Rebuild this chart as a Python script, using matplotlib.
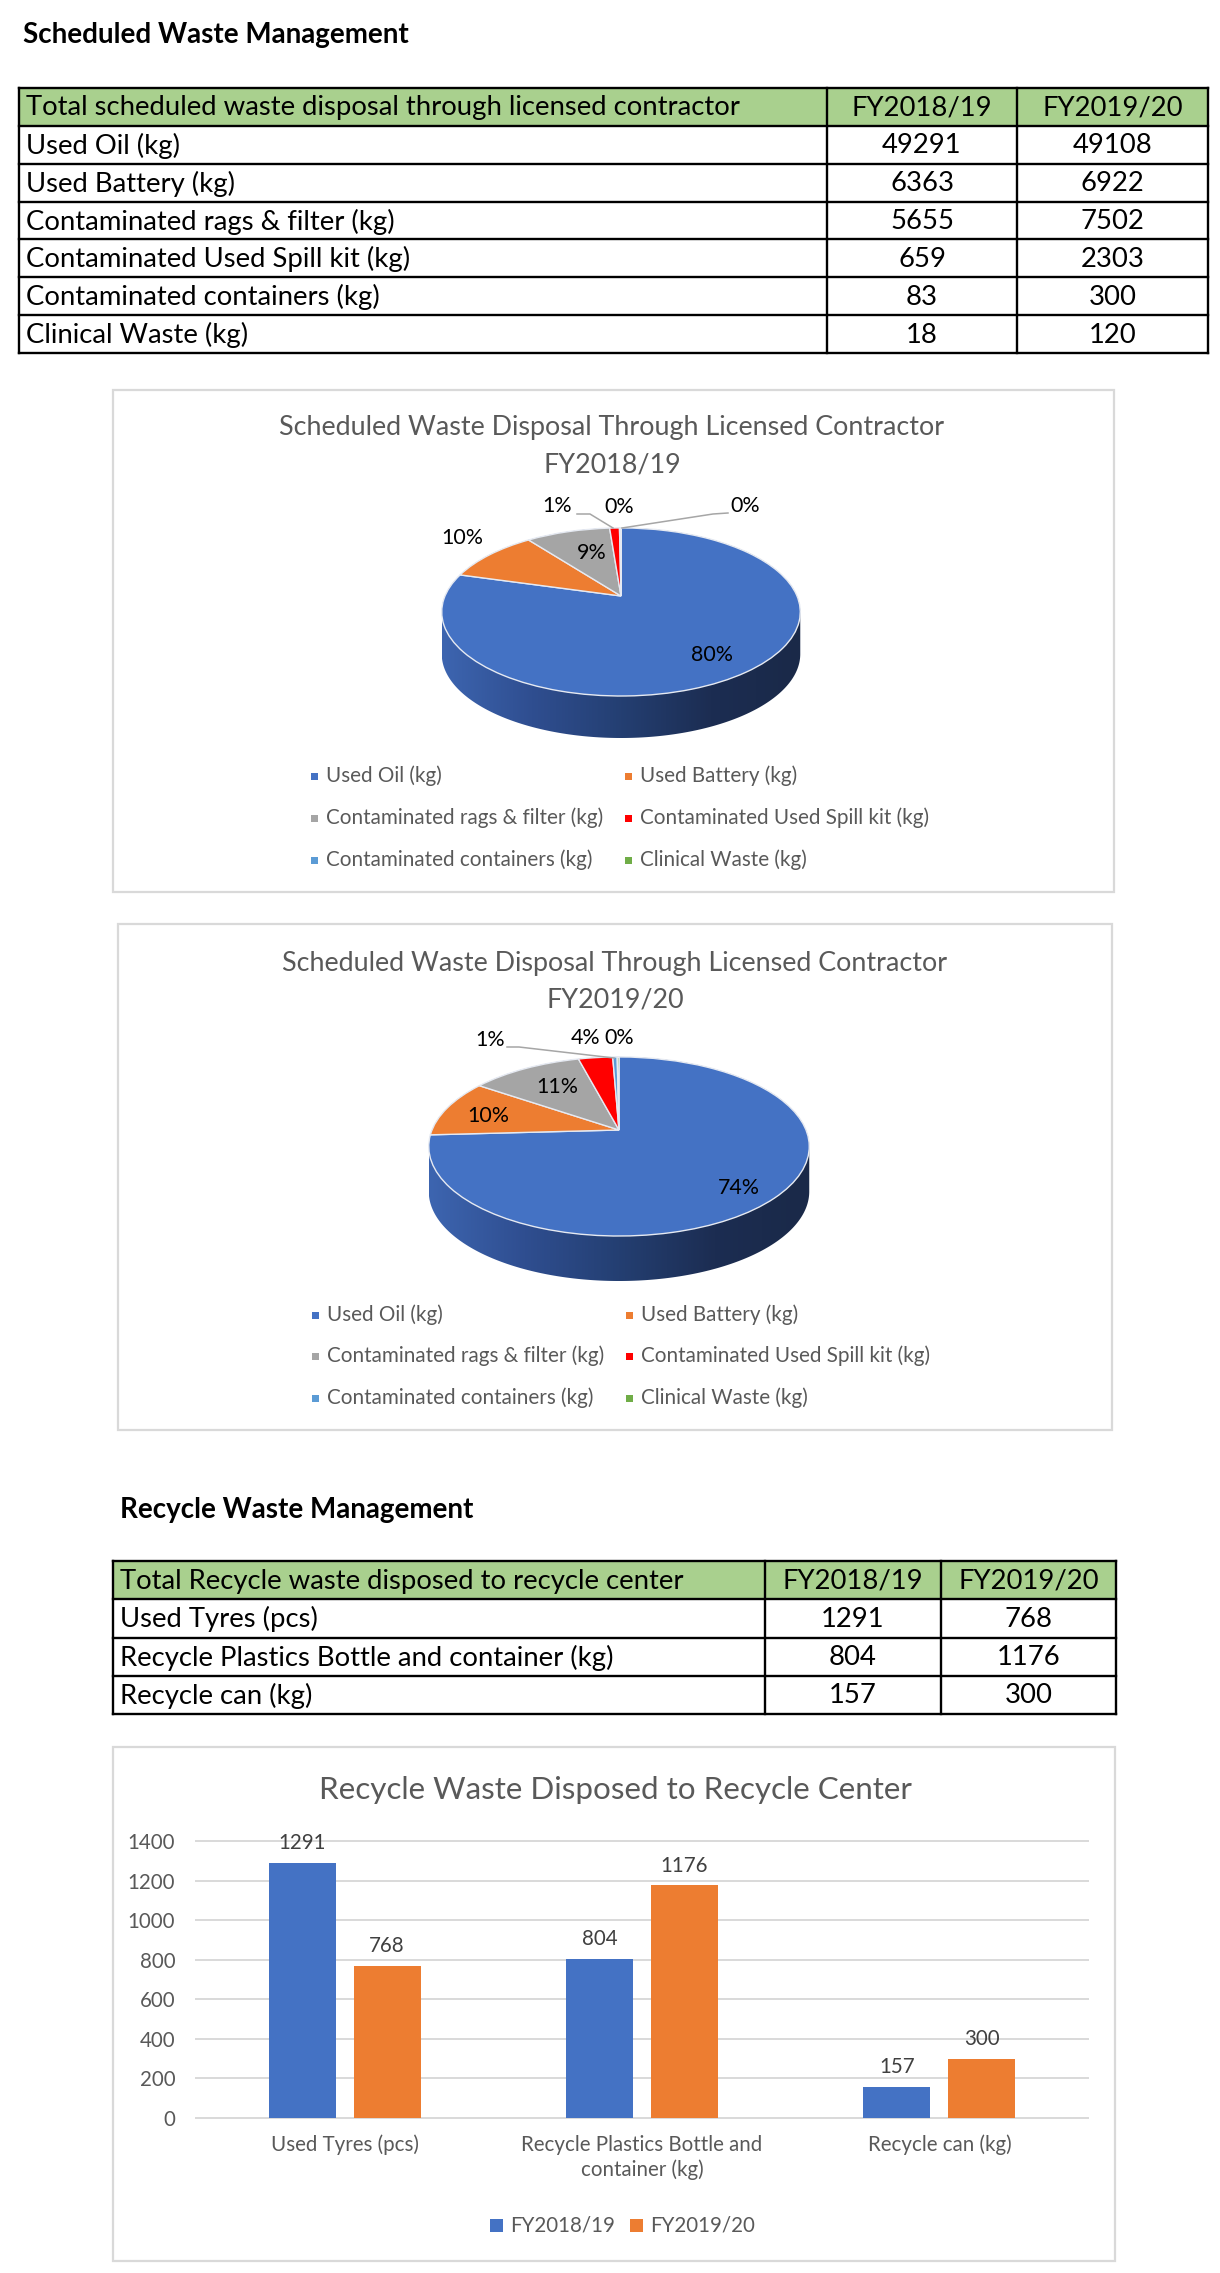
import numpy as np
import matplotlib
matplotlib.use('Agg')
import matplotlib.pyplot as plt
from matplotlib import transforms as mtransforms
from matplotlib.patches import Rectangle, Polygon
from matplotlib.colors import LinearSegmentedColormap

# ---------------- DATA ----------------
sched_header = ['Total scheduled waste disposal through licensed contractor', 'FY2018/19', 'FY2019/20']
sched_items = ['Used Oil (kg)', 'Used Battery (kg)', 'Contaminated rags & filter (kg)',
               'Contaminated Used Spill kit (kg)', 'Contaminated containers (kg)', 'Clinical Waste (kg)']
sched_fy1819 = [49291, 6363, 5655, 659, 83, 18]
sched_fy1920 = [49108, 6922, 7502, 2303, 300, 120]
pie_pct_labels_1819 = ['80%', '10%', '9%', '1%', '0%', '0%']
pie_pct_labels_1920 = ['74%', '10%', '11%', '4%', '1%', '0%']
pie_colors = ['#4472C4', '#ED7D31', '#A5A5A5', '#FF0000', '#5B9BD5', '#70AD47']

recycle_header = ['Total Recycle waste disposed to recycle center', 'FY2018/19', 'FY2019/20']
recycle_items = ['Used Tyres (pcs)', 'Recycle Plastics Bottle and container (kg)', 'Recycle can (kg)']
recycle_fy1819 = [1291, 804, 157]
recycle_fy1920 = [768, 1176, 300]
bar_categories = ['Used Tyres (pcs)', 'Recycle Plastics Bottle and\ncontainer (kg)', 'Recycle can (kg)']
bar_series = ['FY2018/19', 'FY2019/20']
bar_colors = ['#4472C4', '#ED7D31']
bar_yticks = [0, 200, 400, 600, 800, 1000, 1200, 1400]

# ---------------- FIGURE ----------------
FONT = 'Lato'
plt.rcParams['font.family'] = [FONT, 'DejaVu Sans']
W, H = 1220, 2273
fig = plt.figure(figsize=(W / 100, H / 100), dpi=100)
fig.patch.set_facecolor('white')
ov = fig.add_axes([0, 0, 1, 1])
ov.set_xlim(0, W)
ov.set_ylim(H, 0)
ov.axis('off')
renderer = fig.canvas.get_renderer()


def fit_size(s, target, weight='normal'):
    t = fig.text(0, 0, s, fontsize=20, weight=weight)
    w = t.get_window_extent(renderer).width
    t.remove()
    return 20 * target / w


fs_sec = fit_size('Scheduled Waste Management', 386, 'bold')
fs_tab = fit_size(sched_header[0], 716)
fs_ptitle = fit_size('Scheduled Waste Disposal Through Licensed Contractor', 667)
fs_leg = fit_size(sched_items[2], 278)
fs_plab = fit_size(pie_pct_labels_1819[0], 42)
fs_btitle = fit_size('Recycle Waste Disposed to Recycle Center', 594)
fs_bar = fit_size(bar_categories[0], 148)

GRAY_T = '#595959'


def box(x0, y0, x1, y1):
    ov.add_patch(Rectangle((x0, y0), x1 - x0, y1 - y0, facecolor='white',
                           edgecolor='#D9D9D9', lw=1.6, zorder=0.5))


def draw_table(header, items, c1, c2, xs, ys):
    ov.add_patch(Rectangle((xs[0], ys[0]), xs[-1] - xs[0], ys[1] - ys[0],
                           facecolor='#A9D08E', edgecolor='none', zorder=1))
    for y in ys:
        ov.plot([xs[0], xs[-1]], [y, y], color='black', lw=1.7, solid_capstyle='projecting', zorder=2)
    for x in xs:
        ov.plot([x, x], [ys[0], ys[-1]], color='black', lw=1.7, solid_capstyle='projecting', zorder=2)
    rows = [header] + [[it, str(a), str(b)] for it, a, b in zip(items, c1, c2)]
    for i, row in enumerate(rows):
        yc = (ys[i] + ys[i + 1]) / 2 + 1
        ov.text(xs[0] + 7, yc, row[0], ha='left', va='center', fontsize=fs_tab, color='black', zorder=3)
        for j in (1, 2):
            ov.text((xs[j] + xs[j + 1]) / 2, yc, row[j], ha='center', va='center',
                    fontsize=fs_tab, color='black', zorder=3)


class Proj(mtransforms.Transform):
    """Perspective view of a tilted unit disc (pie top face) in pixel coords."""
    input_dims = 2
    output_dims = 2
    is_separable = False
    has_inverse = False

    def __init__(self, cx, cy, a, b, p):
        super().__init__()
        self.cx, self.cy, self.a, self.b, self.p = cx, cy, a, b, p

    def transform_non_affine(self, values):
        values = np.asarray(values, dtype=float)
        u = values[:, 0]
        v = values[:, 1]
        w = 1 + self.p * v
        return np.column_stack([self.cx + self.a * u / w, self.cy - self.b * v / w])


def hull(pts):
    pts = sorted(set(map(tuple, np.round(pts, 3))))

    def cross(o, a, b):
        return (a[0] - o[0]) * (b[1] - o[1]) - (a[1] - o[1]) * (b[0] - o[0])
    lower, upper = [], []
    for pt in pts:
        while len(lower) >= 2 and cross(lower[-2], lower[-1], pt) <= 0:
            lower.pop()
        lower.append(pt)
    for pt in reversed(pts):
        while len(upper) >= 2 and cross(upper[-2], upper[-1], pt) <= 0:
            upper.pop()
        upper.append(pt)
    return np.array(lower[:-1] + upper[:-1])


side_cmap = LinearSegmentedColormap.from_list(
    'side', ['#3D65B0', '#2F4E90', '#243F72', '#1C2D52', '#1A2948'])


def draw_pie(values, pct_labels, cx, cy, a, b, p, h, label_pos, leaders,
             title_lines, title_y, title_x, leg_rows, leg_cols):
    proj = Proj(cx, cy, a, b, p)
    th = np.linspace(0, 2 * np.pi, 721)
    top = proj.transform(np.column_stack([np.cos(th), np.sin(th)]))
    bot = top + np.array([0, h])
    hp = hull(np.vstack([top, bot]))
    poly = Polygon(hp, closed=True, transform=ov.transData, facecolor='none', edgecolor='none')
    ov.add_patch(poly)
    x0, x1 = hp[:, 0].min(), hp[:, 0].max()
    y0, y1 = hp[:, 1].min(), hp[:, 1].max()
    grad = np.linspace(0, 1, 256)[None, :]
    im = ov.imshow(grad, cmap=side_cmap, extent=(x0, x1, y1, y0), aspect='auto',
                   zorder=1, interpolation='bicubic')
    im.set_clip_path(poly)
    wedges, _ = ov.pie(values, colors=pie_colors, startangle=90, counterclock=False,
                       wedgeprops=dict(edgecolor='#E6EAF2', linewidth=1.0))
    for wdg in wedges:
        wdg.set_transform(proj + ov.transData)
        wdg.set_zorder(2)
    for s, (lx, ly) in zip(pct_labels, label_pos):
        ov.text(lx, ly, s, ha='center', va='center', fontsize=fs_plab, color='black', zorder=4)
    for ld in leaders:
        ld = np.array(ld)
        ov.plot(ld[:, 0], ld[:, 1], color='#A6A6A6', lw=1.1, zorder=3)
    for s, ty in zip(title_lines, title_y):
        ov.text(title_x, ty, s, ha='center', va='center', fontsize=fs_ptitle, color=GRAY_T, zorder=4)
    # legend, row-wise fill (two columns)
    for k, item in enumerate(sched_items):
        r, c = divmod(k, 2)
        mx, ty = leg_cols[c], leg_rows[r]
        ov.add_patch(Rectangle((mx - 3.5, ty - 3.5), 7, 7, facecolor=pie_colors[k], edgecolor='none', zorder=4))
        ov.text(mx + 12, ty, item, ha='left', va='center', fontsize=fs_leg, color=GRAY_T, zorder=4)


# ---------------- SCHEDULED WASTE ----------------
ov.text(23, 35, 'Scheduled Waste Management', ha='left', va='center', fontsize=fs_sec,
        weight='bold', color='black')
draw_table(sched_header, sched_items, sched_fy1819, sched_fy1920,
           [19, 827, 1017, 1208], np.linspace(88, 353, 8))

box(113, 390, 1114, 892)
draw_pie(sched_fy1819, pie_pct_labels_1819, cx=621, cy=596, a=176, b=81, p=0.19, h=42,
         label_pos=[(712, 655), (462, 538), (592, 553), (557, 506), (619, 507), (745, 506)],
         leaders=[[(577, 514), (590, 514), (613, 528)], [(728, 513), (713, 514), (622, 528)]],
         title_lines=['Scheduled Waste Disposal Through Licensed Contractor', 'FY2018/19'],
         title_y=[428, 465], title_x=612, leg_rows=[776, 818, 860], leg_cols=[314, 628])

box(118, 924, 1112, 1430)
draw_pie(sched_fy1920, pie_pct_labels_1920, cx=619, cy=1130, a=187, b=86.5, p=0.184, h=45,
         label_pos=[(739, 1188), (488, 1116), (557, 1087), (586, 1038), (490, 1040), (619, 1038)],
         leaders=[[(507, 1047), (519, 1047), (614, 1058)]],
         title_lines=['Scheduled Waste Disposal Through Licensed Contractor', 'FY2019/20'],
         title_y=[964, 1000], title_x=615, leg_rows=[1315, 1356, 1398], leg_cols=[315, 629])

# ---------------- RECYCLE WASTE ----------------
ov.text(120, 1510, 'Recycle Waste Management', ha='left', va='center', fontsize=fs_sec,
        weight='bold', color='black')
draw_table(recycle_header, recycle_items, recycle_fy1819, recycle_fy1920,
           [113, 765, 941, 1116], np.linspace(1561, 1714, 5))

box(113, 1747, 1115, 2261)
ov.text(615, 1790, 'Recycle Waste Disposed to Recycle Center', ha='center', va='center',
        fontsize=fs_btitle, color=GRAY_T)

ov.set_aspect('auto')
ov.set_xlim(0, W)
ov.set_ylim(H, 0)
ov.axis('off')

ax = fig.add_axes([196 / W, (H - 2118) / H, 892 / W, 277 / H])
ax.set_facecolor('none')
x = np.arange(len(bar_categories))
off, bw = 0.143, 0.225
series = [recycle_fy1819, recycle_fy1920]
for i, (vals, col) in enumerate(zip(series, bar_colors)):
    xs = x + (-off if i == 0 else off)
    ax.bar(xs, vals, bw, color=col, zorder=2)
    for xi, v in zip(xs, vals):
        ax.annotate(str(v), (xi, v), xytext=(0, 7), textcoords='offset points', ha='center',
                    va='bottom', fontsize=fs_bar, color='#404040', annotation_clip=False)
ax.set_xlim(-0.5, 2.5)
ax.set_ylim(0, 1400)
ax.set_yticks(bar_yticks)
ax.set_xticks(x)
ax.set_xticklabels(bar_categories, linespacing=1.3)
ax.tick_params(axis='both', length=0, labelsize=fs_bar, labelcolor=GRAY_T)
ax.tick_params(axis='y', pad=15)
ax.tick_params(axis='x', pad=12)
ax.yaxis.grid(True, color='#D9D9D9', lw=1.4)
ax.set_axisbelow(True)
for gl in ax.get_ygridlines():
    gl.set_clip_on(False)
for sp in ax.spines.values():
    sp.set_visible(False)

# legend
leg_x_marker = [490, 630]
for k, (name, col) in enumerate(zip(bar_series, bar_colors)):
    ov.add_patch(Rectangle((leg_x_marker[k], 2225 - 6.5), 13, 13, facecolor=col, edgecolor='none', zorder=4))
    ov.text(leg_x_marker[k] + 20, 2225, name, ha='left', va='center', fontsize=fs_bar, color=GRAY_T)

fig.savefig('out.png', dpi=100, facecolor='white')
